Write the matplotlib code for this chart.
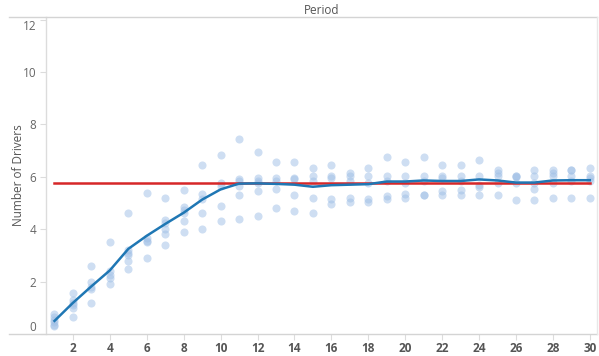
import matplotlib
matplotlib.use("Agg")
import matplotlib.pyplot as plt
from matplotlib.lines import Line2D

plt.rcParams['font.family'] = ['Open Sans', 'DejaVu Sans']

# Individual observations per period
period_values = {
    1: [0.75, 0.65, 0.55, 0.45, 0.35, 0.3],
    2: [1.55, 1.3, 1.2, 1.1, 1.0, 0.65],
    3: [2.6, 2.0, 1.8, 1.7, 1.2],
    4: [3.5, 2.4, 2.25, 2.15, 1.9],
    5: [4.6, 3.2, 3.1, 3.0, 2.8, 2.5],
    6: [5.4, 3.65, 3.55, 3.5, 2.9],
    7: [5.2, 4.35, 4.25, 4.0, 3.8, 3.4],
    8: [5.5, 4.85, 4.75, 4.6, 4.3, 3.9],
    9: [6.45, 5.35, 5.15, 4.6, 4.0],
    10: [6.85, 5.75, 5.65, 4.9, 4.3],
    11: [7.45, 5.9, 5.85, 5.65, 5.3, 4.4],
    12: [6.95, 5.95, 5.85, 5.75, 5.45, 4.5],
    13: [6.55, 5.95, 5.85, 5.55, 4.8],
    14: [6.55, 5.95, 5.9, 5.3, 4.7],
    15: [6.35, 6.05, 5.85, 5.2, 4.6],
    16: [6.45, 6.05, 5.95, 5.15, 4.95],
    17: [6.15, 6.05, 5.85, 5.2, 5.05],
    18: [6.35, 6.05, 5.75, 5.15, 5.05],
    19: [6.75, 6.05, 5.85, 5.25, 5.15],
    20: [6.55, 6.05, 5.75, 5.35, 5.2],
    21: [6.75, 6.05, 5.85, 5.3, 5.3],
    22: [6.45, 6.05, 5.95, 5.45, 5.3],
    23: [6.45, 6.05, 5.85, 5.5, 5.3],
    24: [6.65, 6.05, 5.7, 5.6, 5.3],
    25: [6.25, 6.15, 6.05, 5.75, 5.3],
    26: [6.05, 6.05, 6.0, 5.75, 5.1],
    27: [6.25, 6.05, 5.75, 5.55, 5.1],
    28: [6.25, 6.15, 6.05, 5.75, 5.2],
    29: [6.25, 6.25, 6.05, 5.85, 5.2],
    30: [6.35, 6.05, 5.95, 5.85, 5.2],
}

# Average number of drivers per period
periods = list(range(1, 31))
avg_drivers = [0.5, 1.19, 1.82, 2.43, 3.25, 3.75, 4.2, 4.63, 5.13, 5.52,
               5.74, 5.75, 5.73, 5.7, 5.62, 5.68, 5.7, 5.72, 5.82, 5.82,
               5.86, 5.84, 5.84, 5.9, 5.86, 5.78, 5.78, 5.86, 5.87, 5.87]

# Overall reference level
overall_level = 5.78

x_ticks = list(range(2, 31, 2))
y_ticks = list(range(0, 13, 2))

W, H = 599, 356
fig = plt.figure(figsize=(W / 100, H / 100), dpi=100)
left, right, top, bottom = 46, 597, 17, 334
ax = fig.add_axes([left / W, (H - bottom) / H, (right - left) / W, (bottom - top) / H])

xs, ys = [], []
for p, vals in period_values.items():
    xs.extend([p] * len(vals))
    ys.extend(vals)
ax.scatter(xs, ys, s=34, color='#9fbfe6', alpha=0.5, linewidths=0, zorder=2)

ax.plot([periods[0], periods[-1]], [overall_level, overall_level],
        color='#d62728', lw=1.8, zorder=3)
ax.plot(periods, avg_drivers, color='#1f77b4', lw=1.8, zorder=4,
        solid_joinstyle='round')

ax.set_xlim(0.54, 30.39)
ax.set_ylim(0, 12.1)

for s in ['top', 'right', 'bottom']:
    ax.spines[s].set_visible(False)
ax.spines['left'].set_color('#dcdcdc')
ax.spines['left'].set_linewidth(1.0)

ax.set_xticks(x_ticks)
ax.set_xticklabels([str(t) for t in x_ticks], fontsize=8.5, fontweight='bold',
                   color='#555555')
ax.set_yticks(y_ticks)
ax.set_yticklabels([str(t) for t in y_ticks], fontsize=8.5, color='#666666')
ax.tick_params(axis='x', length=4, color='#dcdcdc', pad=2)
ax.tick_params(axis='y', length=4, color='#dcdcdc', pad=3)

ylabels = ax.get_yticklabels()
ylabels[0].set_verticalalignment('bottom')
ylabels[-1].set_verticalalignment('top')

ax.set_ylabel('Number of Drivers', fontsize=8.5, color='#555555', labelpad=-2)

# Header and frame lines
fig.add_artist(Line2D([9 / W, right / W], [(H - top) / H] * 2,
                      color='#d4d4d4', lw=1.0))
fig.add_artist(Line2D([9 / W, right / W], [(H - bottom) / H] * 2,
                      color='#d4d4d4', lw=1.0))
fig.add_artist(Line2D([right / W] * 2, [(H - bottom) / H, (H - top) / H],
                      color='#e8e8e8', lw=1.0))
fig.text(322 / W, (H - 10) / H, 'Period', ha='center', va='center',
         fontsize=8.5, color='#555555')

fig.savefig('out.png', dpi=100)
